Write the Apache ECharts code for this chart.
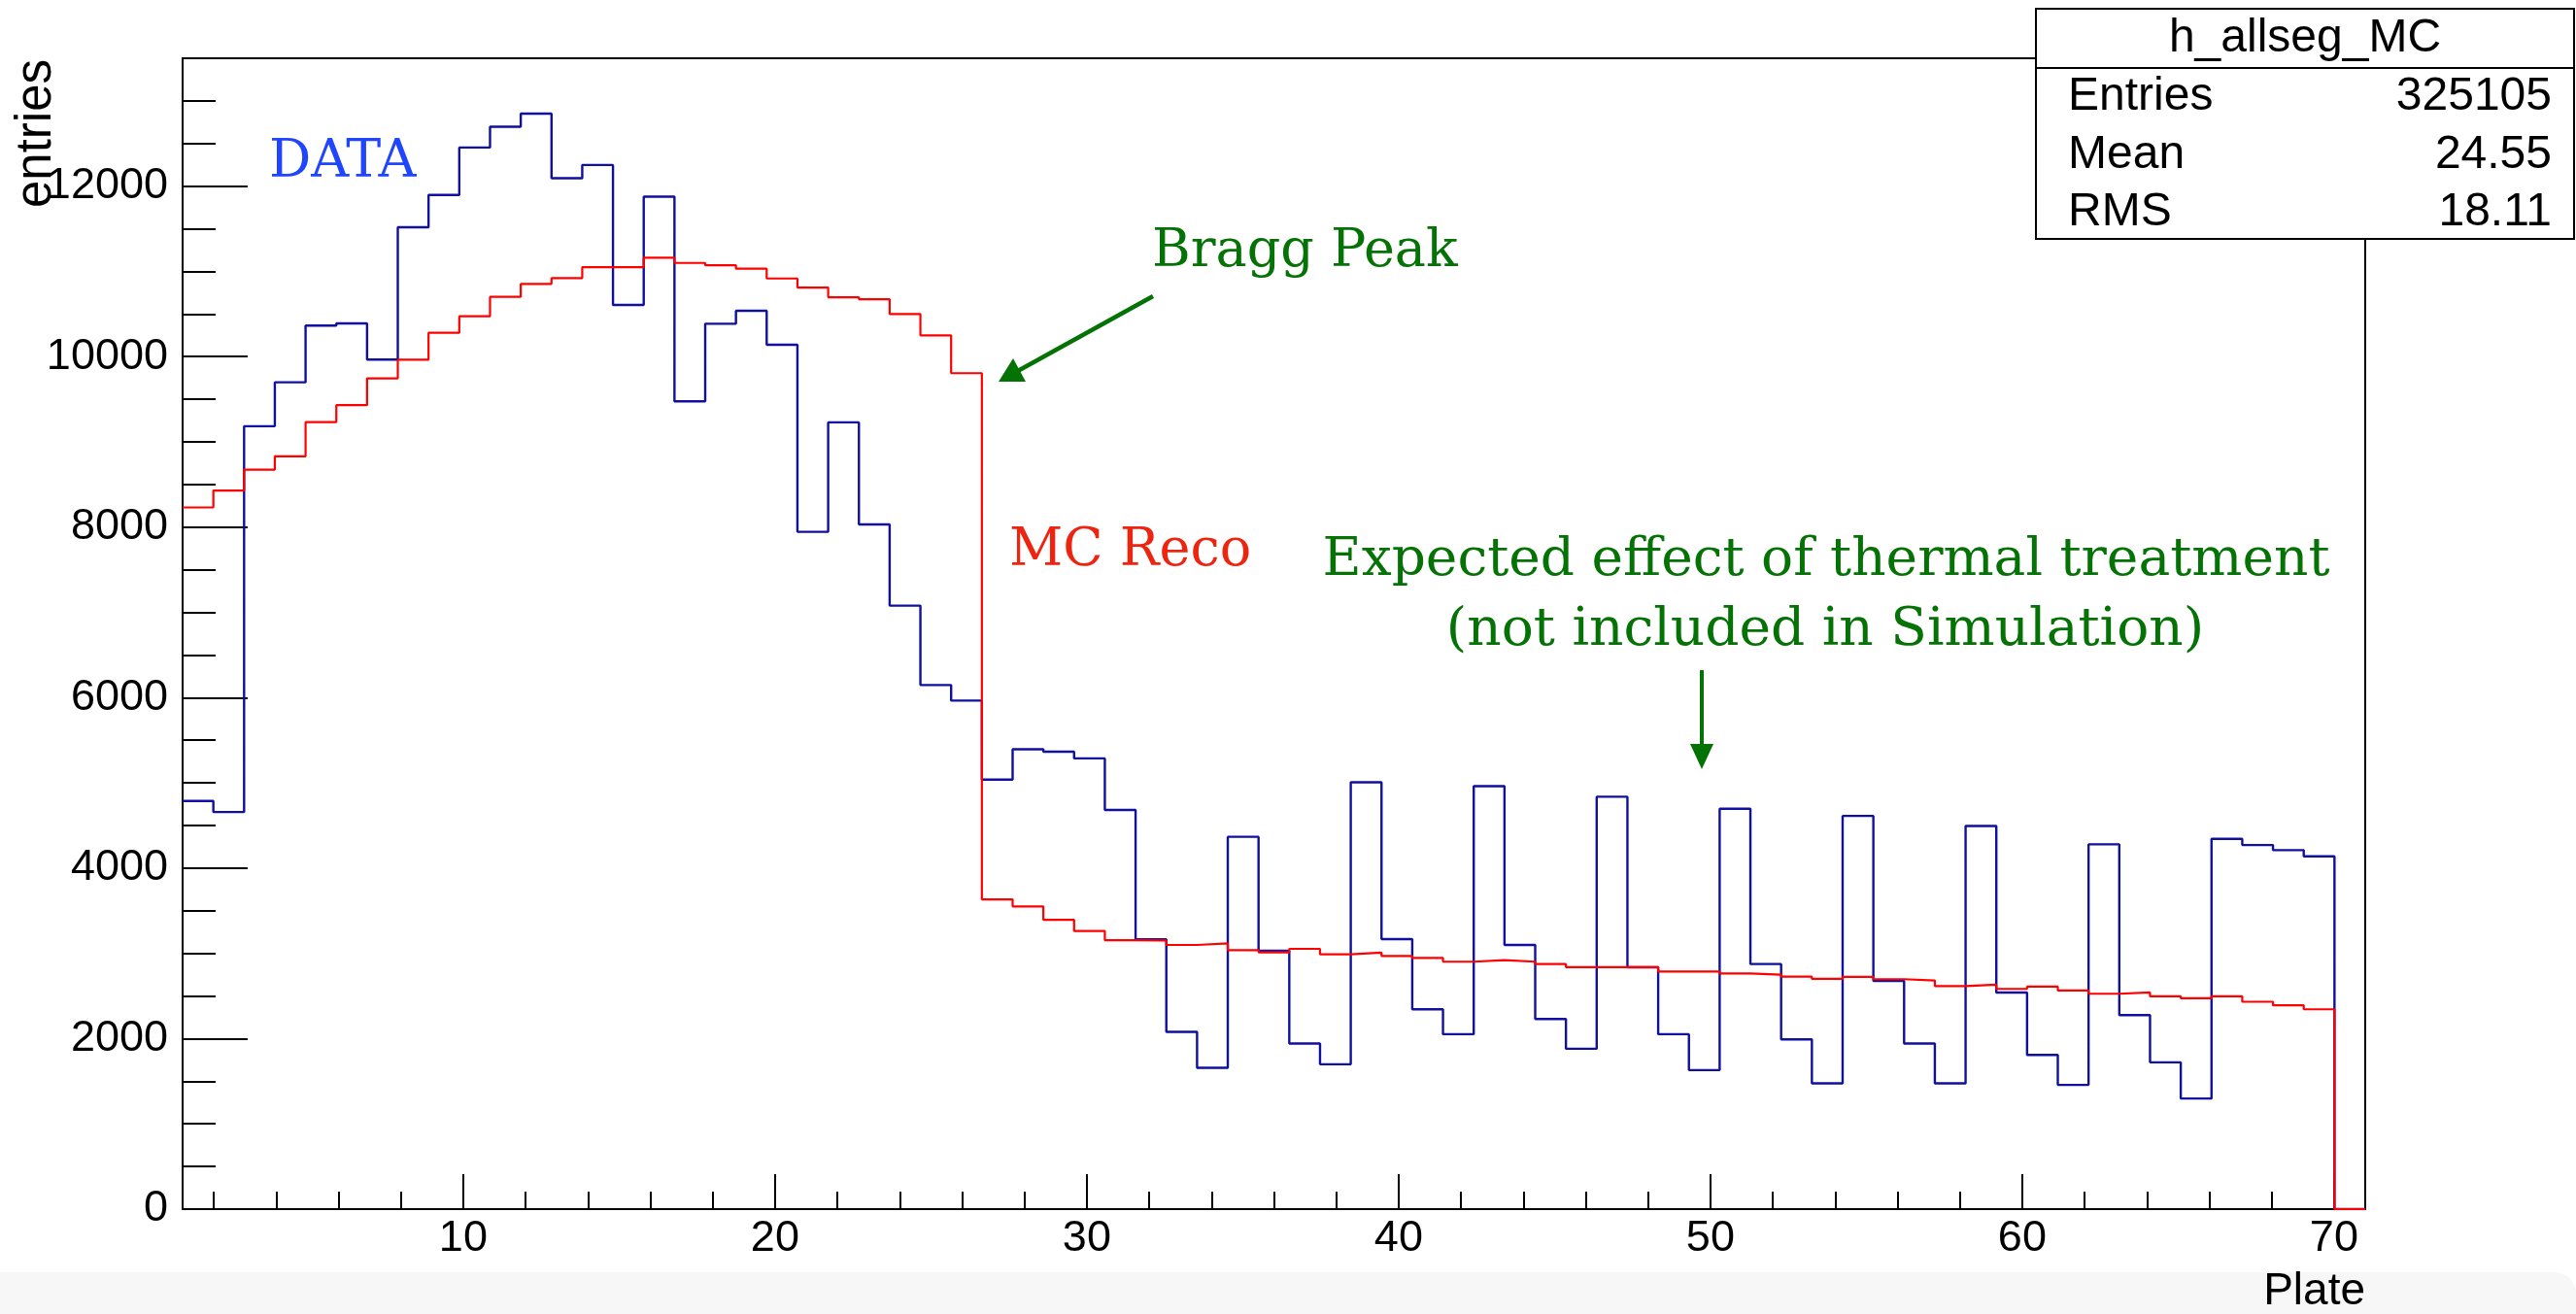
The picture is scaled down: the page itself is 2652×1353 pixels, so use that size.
<!DOCTYPE html>
<html>
<head>
<meta charset="utf-8">
<script src="https://cdn.jsdelivr.net/npm/echarts@6/dist/echarts.min.js"></script>
<style>
  html, body { margin: 0; padding: 0; background: #ffffff; }
  #chart { width: 2652px; height: 1353px; }
</style>
</head>
<body>
<div id="chart"></div>
<script>
// ---- Histogram binning (71 bins spanning 1 .. 71) ----
const binLow = 1;
const binHigh = 71;
const nBins = 71;

// ---- DATA histogram (blue), entries per bin ----
const dataEntries = [
  4787, 4658, 9184, 9699, 10364, 10390, 9965, 11517, 11896, 12453,
  12697, 12851, 12093, 12248, 10606, 11877, 9476, 10386, 10538, 10140,
  7945, 9229, 8032, 7079, 6148, 5965, 5039, 5395, 5365, 5287,
  4682, 3164, 2079, 1658, 4367, 3030, 1942, 1699, 5007, 3167,
  2344, 2052, 4962, 3099, 2230, 1881, 4837, 2837, 2052, 1631,
  4696, 2875, 1991, 1476, 4612, 2678, 1942, 1476, 4495, 2541,
  1809, 1457, 4279, 2276, 1722, 1297, 4344, 4271, 4211, 4139,
  0
];

// ---- MC Reco histogram (red), entries per bin ----
const mcEntries = [
  8231, 8429, 8675, 8831, 9233, 9431, 9745, 9965, 10280, 10473,
  10701, 10853, 10921, 11050, 11050, 11160, 11099, 11073, 11031, 10917,
  10811, 10697, 10674, 10500, 10250, 9806, 3633, 3551, 3394, 3263,
  3155, 3152, 3099, 3118, 3038, 3012, 3053, 2989, 3008, 2970,
  2947, 2902, 2921, 2902, 2875, 2837, 2837, 2837, 2788, 2788,
  2765, 2750, 2727, 2701, 2724, 2697, 2682, 2617, 2633, 2583,
  2610, 2564, 2526, 2541, 2496, 2473, 2496, 2432, 2390, 2344,
  0
];

// ---- Axis ticks / labels ----
const xMajorTicks = [10, 20, 30, 40, 50, 60, 70];
const xMinorTicks = [2, 4, 6, 8, 10, 12, 14, 16, 18, 20, 22, 24, 26, 28, 30, 32, 34, 36, 38, 40,
                     42, 44, 46, 48, 50, 52, 54, 56, 58, 60, 62, 64, 66, 68, 70];
const yMajorTicks = [0, 2000, 4000, 6000, 8000, 10000, 12000];
const yMinorTicks = [500, 1000, 1500, 2000, 2500, 3000, 3500, 4000, 4500, 5000, 5500, 6000, 6500,
                     7000, 7500, 8000, 8500, 9000, 9500, 10000, 10500, 11000, 11500, 12000, 12500, 13000, 13500];
const yMax = 13500;

// ---- Stats box ----
const statsTitle = 'h_allseg_MC';
const statsRows = [['Entries', '325105'], ['Mean', '24.55'], ['RMS', '18.11']];

// Build step-histogram outlines from the bin arrays
function histOutline(values) {
  const w = (binHigh - binLow) / nBins;
  const pts = values.map((v, i) => [binLow + i * w, v]);
  pts.push([binHigh, values[values.length - 1]]);
  return pts;
}

const chart = echarts.init(document.getElementById('chart'), null, { renderer: 'canvas' });

const SANS = 'Liberation Sans, Helvetica, Arial, sans-serif';
const SERIF = 'DejaVu Serif, serif';
const GREEN = '#057205';

const tickStyle = { color: '#000', width: 2 };

const option = {
  animation: false,
  backgroundColor: '#ffffff',
  grid: {
    left: 188, top: 60, width: 2247, height: 1185,
    show: true, borderColor: '#000', borderWidth: 2, backgroundColor: 'transparent'
  },
  xAxis: [
    {
      type: 'value', min: binLow, max: binHigh, position: 'bottom',
      axisLine: { show: true, onZero: false, lineStyle: { color: '#000', width: 2 } },
      axisTick: { show: true, inside: true, length: 36, customValues: xMajorTicks, lineStyle: tickStyle },
      axisLabel: { show: true, customValues: xMajorTicks, formatter: v => String(v),
                   fontSize: 45, fontFamily: SANS, color: '#000', margin: 8 },
      splitLine: { show: false },
      name: 'Plate', nameLocation: 'end', nameGap: 0,
      nameTextStyle: { fontSize: 46, fontFamily: SANS, color: '#000', align: 'right', verticalAlign: 'top',
                       padding: [62, 0, 0, 0] }
    },
    {
      type: 'value', min: binLow, max: binHigh, position: 'bottom',
      axisLine: { show: false, onZero: false },
      axisTick: { show: true, inside: true, length: 18, customValues: xMinorTicks, lineStyle: tickStyle },
      axisLabel: { show: false },
      splitLine: { show: false }
    }
  ],
  yAxis: [
    {
      type: 'value', min: 0, max: yMax, position: 'left',
      axisLine: { show: true, lineStyle: { color: '#000', width: 2 } },
      axisTick: { show: true, inside: true, length: 67, customValues: yMajorTicks, lineStyle: tickStyle },
      axisLabel: { show: true, customValues: yMajorTicks, formatter: v => String(v),
                   fontSize: 45, fontFamily: SANS, color: '#000', margin: 15 },
      splitLine: { show: false }
    },
    {
      type: 'value', min: 0, max: yMax, position: 'left',
      axisLine: { show: false },
      axisTick: { show: true, inside: true, length: 34, customValues: yMinorTicks, lineStyle: tickStyle },
      axisLabel: { show: false },
      splitLine: { show: false }
    }
  ],
  series: [
    {
      name: 'DATA', type: 'line', step: 'end', xAxisIndex: 0, yAxisIndex: 0,
      data: histOutline(dataEntries), showSymbol: false, symbol: 'none',
      lineStyle: { color: '#10109f', width: 2.4 }, z: 3
    },
    {
      name: 'MC Reco', type: 'line', step: 'end', xAxisIndex: 0, yAxisIndex: 0,
      data: histOutline(mcEntries), showSymbol: false, symbol: 'none',
      lineStyle: { color: '#ff0000', width: 2.2 }, z: 4
    }
  ],
  graphic: [
    // bottom grey band
    { type: 'rect', shape: { x: 0, y: 1310, width: 2652, height: 43, r: [0, 22, 0, 0] },
      style: { fill: '#f7f7f7' }, z: -10, silent: true },
    // y axis title
    { type: 'text', x: 38, y: 61, rotation: Math.PI / 2,
      style: { text: 'entries', font: '51px ' + SANS, fill: '#000', align: 'right', verticalAlign: 'middle' }, z: 10 },
    // annotations
    { type: 'text', x: 277, y: 168,
      style: { text: 'DATA', font: '54px ' + SERIF, fill: '#1f45ff', align: 'left', verticalAlign: 'middle' }, z: 10 },
    { type: 'text', x: 1186, y: 260,
      style: { text: 'Bragg Peak', font: '54px ' + SERIF, fill: GREEN, align: 'left', verticalAlign: 'middle' }, z: 10 },
    { type: 'text', x: 1039, y: 568,
      style: { text: 'MC Reco', font: '54px ' + SERIF, fill: '#ec2410', align: 'left', verticalAlign: 'middle' }, z: 10 },
    { type: 'text', x: 1880, y: 578,
      style: { text: 'Expected effect of thermal treatment', font: '55px ' + SERIF, fill: GREEN,
               align: 'center', verticalAlign: 'middle' }, z: 10 },
    { type: 'text', x: 1879, y: 650,
      style: { text: '(not included in Simulation)', font: '55px ' + SERIF, fill: GREEN,
               align: 'center', verticalAlign: 'middle' }, z: 10 },
    // arrow to Bragg peak
    { type: 'line', shape: { x1: 1187, y1: 305, x2: 1046, y2: 383 },
      style: { stroke: GREEN, lineWidth: 4.5 }, z: 10 },
    { type: 'polygon', shape: { points: [[1028, 393], [1056, 393], [1043, 369]] },
      style: { fill: GREEN }, z: 10 },
    // arrow to thermal treatment region
    { type: 'line', shape: { x1: 1752, y1: 690, x2: 1752, y2: 772 },
      style: { stroke: GREEN, lineWidth: 4 }, z: 10 },
    { type: 'polygon', shape: { points: [[1752, 792], [1740, 766], [1764, 766]] },
      style: { fill: GREEN }, z: 10 },
    // stats box
    { type: 'rect', shape: { x: 2096, y: 9, width: 554, height: 237 },
      style: { fill: '#ffffff', stroke: '#000', lineWidth: 2 }, z: 20 },
    { type: 'line', shape: { x1: 2096, y1: 70, x2: 2650, y2: 70 },
      style: { stroke: '#000', lineWidth: 2 }, z: 21 },
    { type: 'text', x: 2373, y: 40,
      style: { text: statsTitle, font: '48px ' + SANS, fill: '#000', align: 'center', verticalAlign: 'middle' }, z: 21 },
    ...statsRows.flatMap((row, i) => [
      { type: 'text', x: 2129, y: 100 + i * 59.5,
        style: { text: row[0], font: '48px ' + SANS, fill: '#000', align: 'left', verticalAlign: 'middle' }, z: 21 },
      { type: 'text', x: 2627, y: 100 + i * 59.5,
        style: { text: row[1], font: '48px ' + SANS, fill: '#000', align: 'right', verticalAlign: 'middle' }, z: 21 }
    ])
  ]
};

chart.setOption(option);
</script>
</body>
</html>
